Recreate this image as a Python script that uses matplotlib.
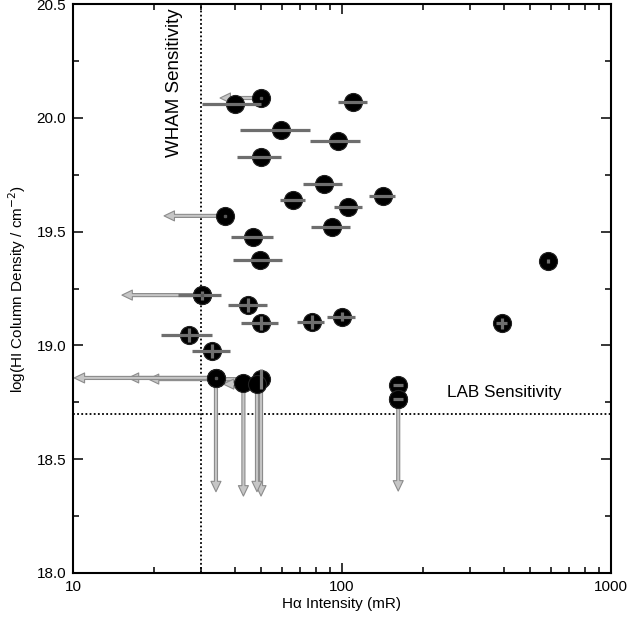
import numpy as np
import matplotlib
matplotlib.use("Agg")
import matplotlib.pyplot as plt
from matplotlib.ticker import FixedLocator, NullFormatter

plt.rcParams['font.family'] = ['Liberation Sans', 'DejaVu Sans']

# Detections: H-alpha intensity (mR), log N(HI), horizontal error range, vertical error
det_x = [40.0, 109.6, 59.2, 96.4, 50.0, 85.7, 65.9, 141.6, 105.5, 92.1, 46.8, 49.5,
         30.1, 44.8, 50.0, 77.1, 99.7, 27.0, 33.0, 392.6, 584.6, 161.8, 161.8]
det_y = [20.06, 20.068, 19.948, 19.898, 19.826, 19.708, 19.637, 19.658, 19.608, 19.519,
         19.478, 19.375, 19.221, 19.178, 19.097, 19.104, 19.126, 19.046, 18.975, 19.097,
         19.372, 18.826, 18.763]
det_xlo = [30.2, 96.7, 41.7, 76.0, 40.6, 71.8, 59.0, 126.0, 93.0, 76.7, 38.6, 39.4,
           24.6, 37.8, 42.1, 68.2, 88.3, 21.2, 27.6, 375.0, 580.0, 155.0, 155.0]
det_xhi = [49.9, 123.7, 76.0, 117.0, 59.4, 100.3, 73.0, 158.0, 119.0, 107.0, 55.5, 59.8,
           35.5, 52.4, 57.9, 85.8, 112.0, 32.8, 38.5, 411.0, 590.0, 168.0, 168.0]
det_yerr = [0.0, 0.0, 0.0, 0.0, 0.0, 0.0, 0.0, 0.0, 0.0, 0.0, 0.0, 0.0,
            0.02, 0.03, 0.03, 0.03, 0.02, 0.03, 0.03, 0.025, 0.008, 0.0, 0.0]

# Upper limits: point, left-arrow tip (Halpha), down-arrow tip (log NHI)
lim_x = [50.0, 36.7, 30.1, 43.0, 50.0, 48.3, 34.0, 34.0, 161.8]
lim_y = [20.087, 19.569, 19.221, 18.835, 18.852, 18.83, 18.857, 18.857, 18.763]
lim_xto = [35.2, 21.8, 15.2, 36.6, 19.06, 36.2, 16.05, 10.1, np.nan]
lim_yto = [np.nan, np.nan, np.nan, 18.338, 18.338, 18.357, np.nan, 18.357, 18.36]
lim_yerr = [0.0, 0.0, 0.0, 0.0, 0.045, 0.0, 0.0, 0.0, 0.0]

wham_limit = 30.0
lab_limit = 18.7

fig = plt.figure(figsize=(6.29, 6.24), dpi=100)
ax = fig.add_axes([73/629, 51/624, 538/629, 569/624])
ax.set_xscale('log')
ax.set_xlim(10, 1000)
ax.set_ylim(18.0, 20.5)

ax.axvline(wham_limit, color='black', ls=(0, (1, 1.3)), lw=1.3, zorder=1)
ax.axhline(lab_limit, color='black', ls=(0, (1, 1.3)), lw=1.3, zorder=1)

arrow_kw = dict(arrowstyle='simple,head_length=0.75,head_width=0.72,tail_width=0.22',
                mutation_scale=10, fc='#c6c6c6', ec='#8c8c8c', lw=0.8,
                shrinkA=0, shrinkB=0)

for x, y, xt, yt in zip(lim_x, lim_y, lim_xto, lim_yto):
    if not np.isnan(xt):
        ax.annotate('', xy=(xt, y), xytext=(x, y), arrowprops=arrow_kw, zorder=2)
    if not np.isnan(yt):
        ax.annotate('', xy=(x, yt), xytext=(x, y), arrowprops=arrow_kw, zorder=2)

all_x = det_x + lim_x
all_y = det_y + lim_y
ax.plot(all_x, all_y, 'o', ms=13, mfc='black', mec='#222222', mew=0.8, ls='none', zorder=3)

dx = np.array(det_x)
xerr = np.vstack([dx - np.array(det_xlo), np.array(det_xhi) - dx])
ax.errorbar(det_x, det_y, xerr=xerr, yerr=det_yerr, fmt='none', ecolor='#6e6e6e',
            elinewidth=2.3, capsize=0, zorder=4)
ax.errorbar(lim_x, lim_y, yerr=lim_yerr, fmt='none', ecolor='#7a7a7a',
            elinewidth=2.3, capsize=0, zorder=4)
ax.plot(lim_x[:3] + [lim_x[7]], lim_y[:3] + [lim_y[7]], 's', ms=1.5, color='#555555',
        ls='none', zorder=4)

ax.text(23.9, 20.48, 'WHAM Sensitivity', rotation=90, ha='center', va='top', fontsize=13.5)
ax.text(245, 18.795, 'LAB Sensitivity', ha='left', va='center', fontsize=12.3)

ax.set_xticks([10, 100, 1000])
ax.set_xticklabels(['10', '100', '1000'])
minors = [m * d for d in (10, 100) for m in range(2, 10)]
ax.xaxis.set_minor_locator(FixedLocator(minors))
ax.xaxis.set_minor_formatter(NullFormatter())
ax.set_yticks([18.0, 18.5, 19.0, 19.5, 20.0, 20.5])
ax.set_yticklabels(['18.0', '18.5', '19.0', '19.5', '20.0', '20.5'])
ax.yaxis.set_minor_locator(FixedLocator(np.arange(18.25, 20.5, 0.5)))

ax.tick_params(which='both', direction='in', top=True, right=True, width=1.1,
               labelsize=11, color='black')
ax.tick_params(which='major', length=7.5, pad=5)
ax.tick_params(which='minor', length=4)
for s in ax.spines.values():
    s.set_linewidth(1.5)

ax.set_xlabel('H\u03b1 Intensity (mR)', fontsize=11, labelpad=2)
ax.set_ylabel(r'log(HI Column Density / cm$^{-2}$)', fontsize=11, labelpad=6)

fig.savefig('out.png', dpi=100)
